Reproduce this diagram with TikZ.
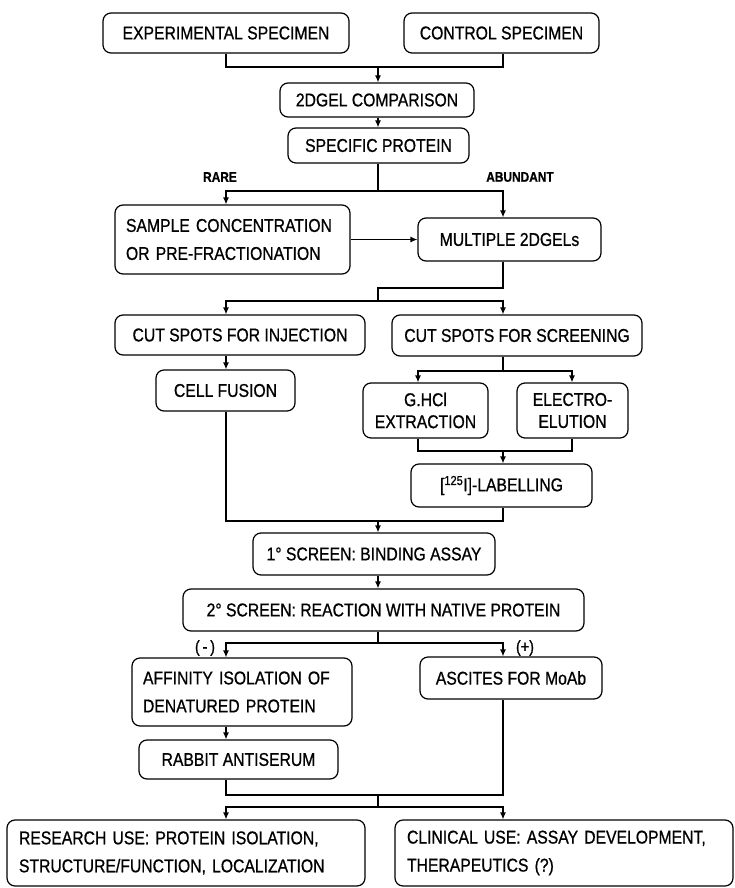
\documentclass[tikz,border=0pt]{standalone}
\usepackage{fontspec}
\setmainfont{Liberation Sans}[FakeStretch=0.85, FakeBold=0.8]
\usetikzlibrary{arrows.meta}

\tikzset{
	box/.style={draw, rounded corners=8pt, line width=1.2pt, inner sep=0pt, align=center,
		font=\fontsize{18.5}{28}\selectfont},
	lbox/.style={box, align=left},
	flow/.style={line width=1.2pt},
	arr/.style={flow, -{Latex[length=7pt,width=6pt]}},
	tag/.style={font=\fontsize{14}{16}\selectfont\bfseries},
	sign/.style={font=\fontsize{17}{18}\selectfont},
}

\begin{document}
\begin{tikzpicture}[x=1pt, y=-1pt]

	\useasboundingbox (0,0) rectangle (735,888);

	% columns the connectors run down
	\coordinate (L) at (226,0);
	\coordinate (M) at (378,0);
	\coordinate (R) at (503,0);
	\coordinate (G) at (418,0);
	\coordinate (E) at (572,0);

	% specimens and gels
	\node[box, minimum width=246, minimum height=40] (exp) at (226,33) {EXPERIMENTAL SPECIMEN};
	\node[box, minimum width=195, minimum height=40] (ctrl) at (501.5,33) {CONTROL SPECIMEN};
	\node[box, minimum width=194, minimum height=34] (gel) at (377,100) {2DGEL COMPARISON};
	\node[box, minimum width=181, minimum height=35] (prot) at (378.5,145.5) {SPECIFIC PROTEIN};
	\node[tag] (rare) at (220,177) {RARE};
	\node[tag] (abund) at (520,177) {ABUNDANT};
	\node[lbox, text width=213, minimum width=235, minimum height=69] (conc) at (232.5,239.5)
		{SAMPLE~CONCENTRATION\\OR PRE-FRACTIONATION};
	\node[box, minimum width=183, minimum height=43] (multi) at (509.5,239.5) {MULTIPLE 2DGELs};

	% cutting the spots
	\node[box, minimum width=250, minimum height=40] (inj) at (240,335) {CUT SPOTS FOR INJECTION};
	\node[box, minimum width=250, minimum height=41] (scr) at (517,335.5) {CUT SPOTS FOR SCREENING};
	\node[box, minimum width=139, minimum height=41] (fus) at (225.5,390.5) {CELL FUSION};
	\node[box, minimum width=125, minimum height=55, font=\fontsize{18.5}{22}\selectfont] (ghcl) at (425.5,410.5)
		{G.HCl\\EXTRACTION};
	\node[box, minimum width=111, minimum height=55, font=\fontsize{18.5}{22}\selectfont] (elec) at (572.5,410.5)
		{ELECTRO-\\ELUTION};
	\node[box, minimum width=181, minimum height=43] (lab) at (501.5,485.5) {[\textsuperscript{125}I]-LABELLING};

	% screening
	\node[box, minimum width=242, minimum height=42] (scr1) at (374,554) {1° SCREEN: BINDING ASSAY};
	\node[box, minimum width=401, minimum height=42] (scr2) at (383.5,610) {2° SCREEN: REACTION WITH NATIVE PROTEIN};
	\node[sign] (neg) at (205,648) {(\,-\,)};
	\node[sign] (pos) at (525,648) {(+)};
	\node[lbox, text width=198, minimum width=220, minimum height=68] (aff) at (242,692)
		{AFFINITY ISOLATION OF\\DENATURED PROTEIN};
	\node[box, minimum width=182, minimum height=42] (asc) at (511,678) {ASCITES FOR MoAb};
	\node[box, minimum width=199, minimum height=39] (rab) at (238.5,759.5) {RABBIT ANTISERUM};

	% uses
	\node[lbox, text width=334, minimum width=358, minimum height=66] (res) at (186,853)
		{RESEARCH USE: PROTEIN ISOLATION,\\STRUCTURE/FUNCTION, LOCALIZATION};
	\node[lbox, text width=314, minimum width=338, minimum height=66] (cli) at (564,853)
		{CLINICAL USE: ASSAY DEVELOPMENT,\\THERAPEUTICS (?)};

	% junctions
	\coordinate (j1) at (378,67);
	\coordinate (j2) at (378,191);
	\coordinate (j3a) at (378,288);
	\coordinate (j3) at (378,301);
	\coordinate (j4) at (503,371);
	\coordinate (j5) at (503,451);
	\coordinate (j6) at (378,521);
	\coordinate (j7) at (378,643);
	\coordinate (j8) at (378,795);
	\coordinate (j9) at (378,807);

	\draw[flow] (exp.south -| L) |- (j1) -| (ctrl.south -| R);
	\draw[arr] (j1) -- (gel.north -| j1);
	\draw[arr] (gel.south -| M) -- (prot.north -| M);

	\draw[flow] (prot.south -| j2) -- (j2);
	\draw[arr] (j2) -| (conc.north -| L); % rare
	\draw[arr] (j2) -| (multi.north -| R); % abundant
	\draw[arr] (conc.east) -- (conc.east -| multi.west);

	\draw[flow] (multi.south -| R) |- (j3a) -- (j3);
	\draw[arr] (j3) -| (inj.north -| L);
	\draw[arr] (j3) -| (scr.north -| R);
	\draw[arr] (inj.south -| L) -- (fus.north -| L);

	\draw[flow] (scr.south -| R) -- (j4);
	\draw[arr] (j4) -| (ghcl.north -| G);
	\draw[arr] (j4) -| (elec.north -| E);
	\draw[flow] (ghcl.south -| G) |- (j5) -| (elec.south -| E);
	\draw[arr] (j5) -- (lab.north -| j5);

	\draw[flow] (fus.south -| L) |- (j6) -| (lab.south -| R);
	\draw[arr] (j6) -- (scr1.north -| j6);
	\draw[arr] (scr1.south -| M) -- (scr2.north -| M);

	\draw[flow] (scr2.south -| M) -- (j7);
	\draw[arr] (j7) -| (aff.north -| L); % negative
	\draw[arr] (j7) -| (asc.north -| R); % positive
	\draw[arr] (aff.south -| L) -- (rab.north -| L);

	\draw[flow] (rab.south -| L) |- (j8) -| (asc.south -| R);
	\draw[flow] (j8) -- (j9);
	\draw[arr] (j9) -| (res.north -| L);
	\draw[arr] (j9) -| (cli.north -| R);

\end{tikzpicture}
\end{document}
